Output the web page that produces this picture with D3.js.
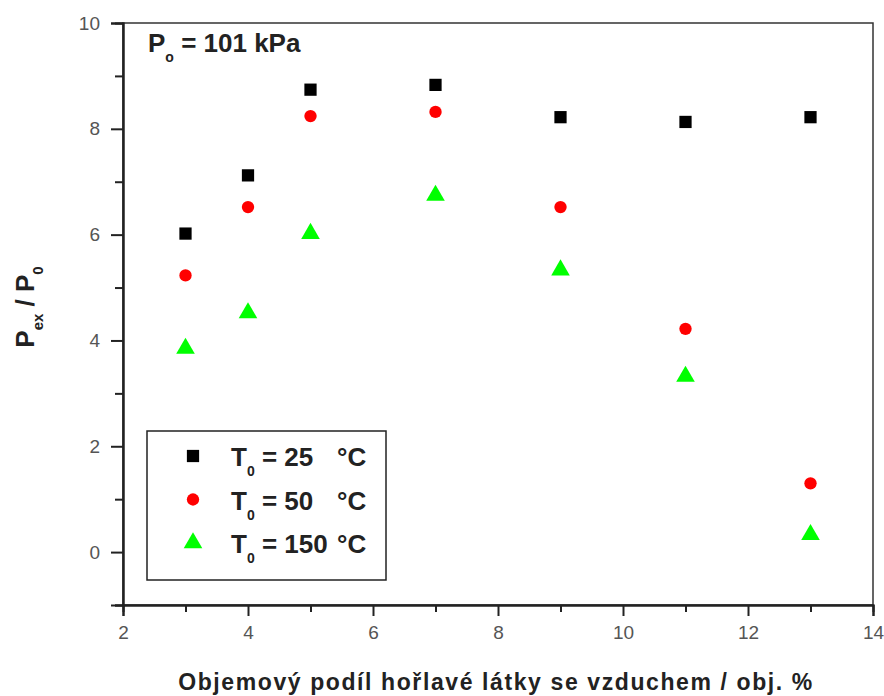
<!DOCTYPE html>
<html>
<head>
<meta charset="utf-8">
<script src="https://cdn.jsdelivr.net/npm/d3@7"></script>
<style>
  body { margin: 0; background: #fff; }
  svg { display: block; font-family: "Liberation Sans", Arial, sans-serif; }
</style>
</head>
<body>
<svg id="chart" width="884" height="696"></svg>
<script>
// data
const conc = [3, 4, 5, 7, 9, 11, 13];
const t25 = [6.02, 7.12, 8.74, 8.83, 8.22, 8.13, 8.22];
const t50 = [5.23, 6.52, 8.24, 8.32, 6.52, 4.22, 1.30];
const t150 = [3.85, 4.52, 6.02, 6.74, 5.33, 3.32, 0.33];
const legendLabels = ["25", "50", "150"];
const xTicks = [2, 4, 6, 8, 10, 12, 14];
const yTicks = [0, 2, 4, 6, 8, 10];

const svg = d3.select('#chart');

const plotL = 123, plotR = 873, plotT = 23, plotB = 605;

const x = d3.scaleLinear().domain([2, 14]).range([plotL, plotR]);
const y = d3.scaleLinear().domain([-1, 10]).range([plotB, plotT]);

// frame (top + right)
svg.append('rect')
  .attr('x', plotL).attr('y', plotT)
  .attr('width', plotR - plotL).attr('height', plotB - plotT)
  .attr('fill', 'none').attr('stroke', '#333').attr('stroke-width', 1.5);

// axes
const xAxis = d3.axisBottom(x).tickValues(xTicks).tickSize(11).tickPadding(10);
const xMinor = d3.axisBottom(x).tickValues([3, 5, 7, 9, 11, 13]).tickSize(7).tickFormat('');
const yAxis = d3.axisLeft(y).tickValues(yTicks).tickSize(12).tickPadding(11);
const yMinor = d3.axisLeft(y).tickValues([-1, 1, 3, 5, 7, 9]).tickSize(8).tickFormat('');

function styleAxis(g) {
  g.select('.domain').attr('stroke', '#222').attr('stroke-width', 2);
  g.selectAll('.tick line').attr('stroke', '#222').attr('stroke-width', 2);
  g.selectAll('.tick text').attr('fill', '#555').style('font-size', '19px');
}

svg.append('g').attr('transform', `translate(0,${plotB})`).call(xMinor).call(styleAxis);
svg.append('g').attr('transform', `translate(0,${plotB})`).call(xAxis).call(styleAxis);
svg.append('g').attr('transform', `translate(${plotL},0)`).call(yMinor).call(styleAxis);
svg.append('g').attr('transform', `translate(${plotL},0)`).call(yAxis).call(styleAxis);

// axis titles
svg.append('text')
  .attr('x', 496).attr('y', 690)
  .attr('text-anchor', 'middle')
  .style('font-size', '23px').style('font-weight', 'bold')
  .style('letter-spacing', '1.6px')
  .attr('fill', '#222')
  .text('Objemový podíl hořlavé látky se vzduchem / obj. %');

const yt = svg.append('text')
  .attr('transform', 'translate(34,307) rotate(-90)')
  .attr('text-anchor', 'middle')
  .style('font-size', '26px').style('font-weight', 'bold')
  .attr('fill', '#222');
yt.append('tspan').text('P');
yt.append('tspan').attr('dy', 9).style('font-size', '15px').text('ex');
yt.append('tspan').attr('dy', -9).text(' / P');
yt.append('tspan').attr('dy', 9).style('font-size', '15px').text('0');

// annotation
const ann = svg.append('text')
  .attr('x', 148).attr('y', 52)
  .style('font-size', '26px').style('font-weight', 'bold')
  .attr('fill', '#222');
ann.append('tspan').text('P');
ann.append('tspan').attr('dy', 10).style('font-size', '14px').text('o');
ann.append('tspan').attr('dy', -10).text(' = 101 kPa');

// markers
const series = [
  { vals: t25, color: '#000', shape: d3.symbolSquare, size: 150 },
  { vals: t50, color: '#ff0000', shape: d3.symbolCircle, size: 120 },
  { vals: t150, color: '#00ff00', shape: d3.symbolTriangle, size: 150 }
];

series.forEach(s => {
  const sym = d3.symbol().type(s.shape).size(s.size);
  svg.append('g').selectAll('path')
    .data(conc.map((c, i) => [c, s.vals[i]]))
    .enter().append('path')
    .attr('d', sym)
    .attr('transform', d => `translate(${x(d[0])},${y(d[1])})`)
    .attr('fill', s.color);
});

// legend
svg.append('rect')
  .attr('x', 147).attr('y', 431)
  .attr('width', 239).attr('height', 149)
  .attr('fill', 'none').attr('stroke', '#222').attr('stroke-width', 1.5);

series.forEach((s, i) => {
  const cy = 456 + i * 43.5;
  svg.append('path')
    .attr('d', d3.symbol().type(s.shape).size(s.size))
    .attr('transform', `translate(193,${cy})`)
    .attr('fill', s.color);
  const t = svg.append('text')
    .attr('x', 231).attr('y', cy + 10)
    .style('font-size', '26px').style('font-weight', 'bold')
    .attr('fill', '#222');
  t.append('tspan').text('T');
  t.append('tspan').attr('dy', 10).style('font-size', '14px').text('0');
  t.append('tspan').attr('dy', -10).text(' = ' + legendLabels[i]);
  t.append('tspan').attr('x', 337).text('°C');
});
</script>
</body>
</html>
